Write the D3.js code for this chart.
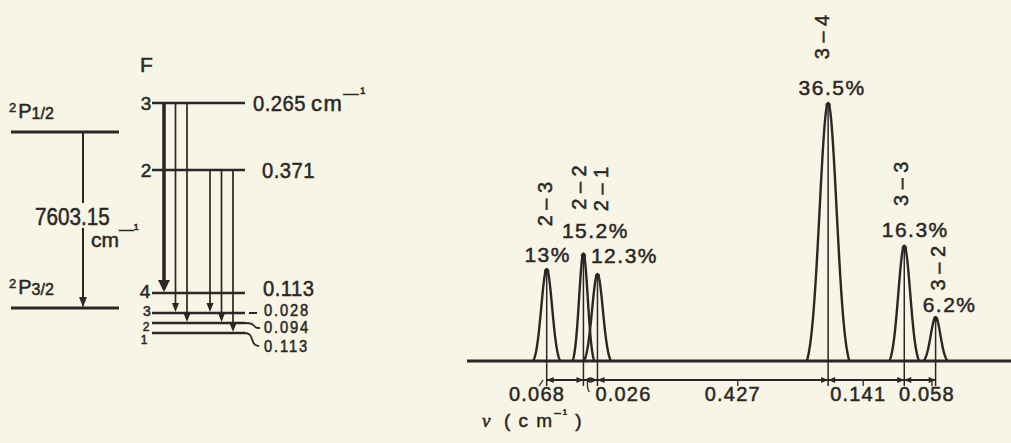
<!DOCTYPE html>
<html>
<head>
<meta charset="utf-8">
<script src="https://cdn.jsdelivr.net/npm/d3@7"></script>
<style>
  html, body { margin: 0; padding: 0; background: #f7f5e6; }
  svg { display: block; }
  text { font-family: "Liberation Sans", Arial, sans-serif; fill: #2b2724; stroke: #2b2724; stroke-width: 0.5px; }
</style>
</head>
<body>
<svg id="chart" width="1011" height="443"></svg>
<script>
// ---------- data ----------
// fine structure of the ground configuration
const fineTerms = ["1/2", "3/2"];
const fineSplitting = "7603.15";

// hyperfine levels (F) of each term and the numbers written beside them
const upperF = ["3", "2"];
const upperNotes = ["0.265", "0.371"];
const lowerF = ["4", "3", "2", "1"];
const lowerNotes = ["0.113", "0.028", "0.094", "0.113"];

// hyperfine components, in order of increasing wavenumber
const components = ["2-3", "2-2", "2-1", "3-4", "3-3", "3-2"];
const intensities = [13, 15.2, 12.3, 36.5, 16.3, 6.2];          // % of total
const spacings = [0.068, 0.026, 0.427, 0.141, 0.058];            // cm^-1 between neighbours
const linewidths = [0.010, 0.008, 0.010, 0.0157, 0.011, 0.009];  // gaussian sigma, cm^-1

// ---------- drawing ----------
const ink = "#2b2724";
const svg = d3.select("#chart");
const g = svg.append("g");

function arrowHead(sel, x, y, len, half) {
  sel.append("path")
    .attr("d", `M${x},${y} L${x - half},${y - len} L${x + half},${y - len} Z`)
    .attr("fill", ink);
}
// squeeze a text horizontally, like the narrow typeface of the print
function condense(sel, k) {
  sel.each(function () {
    const w = this.getComputedTextLength();
    d3.select(this).attr("textLength", w * k).attr("lengthAdjust", "spacingAndGlyphs");
  });
  return sel;
}
// "cm^-1" unit written after a number
function unit(x, y, size) {
  const t = g.append("text").attr("x", x).attr("y", y).attr("font-size", size);
  t.append("tspan").text("cm");
  t.append("tspan").attr("font-size", size * 0.7).attr("dy", -size * 0.6).text("\u2014\u00b9");
  return t;
}

// ===== left: fine-structure levels =====
const fineY = d3.scaleOrdinal().domain(fineTerms).range([132, 308]);
const fineX = d3.scaleLinear().domain([0, 1]).range([11, 119]);
const fsArrowX = 83;

g.selectAll("line.fine").data(fineTerms).join("line")
  .attr("x1", fineX(0)).attr("x2", fineX(1))
  .attr("y1", d => fineY(d)).attr("y2", d => fineY(d))
  .attr("stroke", ink).attr("stroke-width", 3);

const termLabel = g.selectAll("text.term").data(fineTerms).join("text")
  .attr("x", 9).attr("y", d => fineY(d) - 14);
termLabel.append("tspan").attr("font-size", 13).attr("dy", -6).text("2");
termLabel.append("tspan").attr("font-size", 20).attr("dy", 6).attr("dx", 2).text("P");
termLabel.append("tspan").attr("font-size", 16).attr("dy", 1).text(d => d);

// vertical transition arrow, broken around the splitting value
g.append("line").attr("x1", fsArrowX).attr("x2", fsArrowX)
  .attr("y1", fineY("1/2")).attr("y2", 203).attr("stroke", ink).attr("stroke-width", 2);
g.append("line").attr("x1", fsArrowX).attr("x2", fsArrowX)
  .attr("y1", 228).attr("y2", fineY("3/2") - 2).attr("stroke", ink).attr("stroke-width", 2);
arrowHead(g, fsArrowX, fineY("3/2") - 1, 10, 4);

condense(g.append("text").attr("x", 35).attr("y", 225).attr("font-size", 23)
  .text(fineSplitting), 0.9);
unit(91, 247, 21);

// ===== middle: hyperfine levels and allowed transitions =====
const levY = d3.scaleOrdinal()
  .domain(["u3", "u2", "l4", "l3", "l2", "l1"])
  .range([103, 170, 293, 313, 323, 333]);
const levX0 = 152, levX1 = 245;

g.append("text").attr("x", 140).attr("y", 72).attr("font-size", 21).text("F");

const levels = upperF.map((f, i) => ({ key: "u" + f, f, note: upperNotes[i], upper: true }))
  .concat(lowerF.map((f, i) => ({ key: "l" + f, f, note: lowerNotes[i], upper: false })));

g.selectAll("line.hf").data(levels).join("line")
  .attr("x1", levX0).attr("x2", levX1)
  .attr("y1", d => levY(d.key)).attr("y2", d => levY(d.key))
  .attr("stroke", ink).attr("stroke-width", 2.6);

const fSize = { u3: 19, u2: 19, l4: 19, l3: 14, l2: 12, l1: 12 };
const fX = { u3: 146, u2: 146, l4: 145, l3: 147, l2: 146, l1: 144 };
const fDy = { u3: 0, u2: 0, l4: -2, l3: -2, l2: 3.5, l1: 7 };
g.selectAll("text.flab").data(levels).join("text")
  .attr("x", d => fX[d.key])
  .attr("y", d => levY(d.key) + fDy[d.key])
  .attr("dy", "0.36em")
  .attr("text-anchor", "middle")
  .attr("font-size", d => fSize[d.key])
  .text(d => d.f);

// numbers to the right of the levels
const noteY = { u3: 103, u2: 170, l4: 288, l3: 310, l2: 327.5, l1: 346 };
const noteX = { u3: 253, u2: 262, l4: 263, l3: 264, l2: 264, l1: 264 };
const noteSize = { u3: 22, u2: 22, l4: 22, l3: 16, l2: 16, l1: 16 };
const notes = g.selectAll("text.note").data(levels).join("text")
  .attr("x", d => noteX[d.key]).attr("y", d => noteY[d.key])
  .attr("dy", "0.36em").attr("font-size", d => noteSize[d.key])
  .attr("letter-spacing", d => d.upper || d.f === "4" ? 0.5 : 2)
  .text(d => d.note);
condense(notes, 0.92);
unit(311, 111, 22).attr("letter-spacing", 1.5);

// short leaders joining the crowded lower levels to their numbers
const leader = d3.line().curve(d3.curveBasis);
g.append("path").attr("d", leader([[levX1 + 4, levY("l3")], [levX1 + 12, levY("l3")]]))
  .attr("stroke", ink).attr("stroke-width", 2).attr("fill", "none");
g.append("path").attr("d", leader([[levX1 - 2, levY("l2")], [levX1 + 8, levY("l2")], [levX1 + 10, levY("l2") + 5], [levX1 + 15, levY("l2") + 5]]))
  .attr("stroke", ink).attr("stroke-width", 1.8).attr("fill", "none");
g.append("path").attr("d", leader([[levX1 - 2, levY("l1")], [levX1 + 6, levY("l1")], [levX1 + 8, levY("l1") + 12], [levX1 + 14, levY("l1") + 13]]))
  .attr("stroke", ink).attr("stroke-width", 1.8).attr("fill", "none");

// transition arrows: from F'=3 then from F'=2
const arrowOrder = ["3-4", "3-3", "3-2", "", "2-3", "2-2", "2-1"];
const arrowX = d3.scalePoint().domain(arrowOrder).range([164, 233]);
const maxI = d3.max(intensities);
components.forEach((c, i) => {
  const [fu, fl] = c.split("-");
  const x = arrowX(c);
  const y1 = levY("u" + fu), y2 = levY("l" + fl);
  const strong = intensities[i] === maxI;
  g.append("line").attr("x1", x).attr("x2", x).attr("y1", y1).attr("y2", y2 - 4)
    .attr("stroke", ink).attr("stroke-width", strong ? 3.6 : 1.7);
  arrowHead(g, x, y2 - 1, strong ? 12 : 9, strong ? 6 : 3.5);
});

// ===== right: spectrum =====
const positions = [0].concat(Array.from(d3.cumsum(spacings)));
const xS = d3.scaleLinear().domain([0, 0.72]).range([546.7, 935.6]);
const yS = d3.scaleLinear().domain([0, 36.5]).range([361, 103]);
const baseY = yS(0);
const dimY = 380;

// baseline
g.append("line").attr("x1", 467).attr("x2", 1011).attr("y1", baseY).attr("y2", baseY)
  .attr("stroke", ink).attr("stroke-width", 3);

// line profiles
const U = 2.5, e0 = Math.exp(-U * U / 2);
const profile = d3.line().x(d => d[0]).y(d => d[1]);
const peaks = components.map((c, i) => ({
  name: c, pct: intensities[i], nu: positions[i], w: linewidths[i],
  x: xS(positions[i]), top: yS(intensities[i])
}));

peaks.forEach(p => {
  const pts = d3.range(-U, U + 1e-9, 0.05).map(u => {
    const f = (Math.exp(-u * u / 2) - e0) / (1 - e0);
    return [xS(p.nu + u * p.w), yS(p.pct * f)];
  });
  g.append("path").attr("d", profile(pts))
    .attr("fill", "none").attr("stroke", ink).attr("stroke-width", 2.4)
    .attr("stroke-linejoin", "round");
  g.append("circle").attr("cx", p.x).attr("cy", p.top + 2).attr("r", 2.6).attr("fill", ink);
  g.append("line").attr("x1", p.x).attr("x2", p.x).attr("y1", p.top).attr("y2", dimY + 6)
    .attr("stroke", ink).attr("stroke-width", 1.5);
});

// transition names (rotated) and intensities above each line
const rotNudge = [[-2, -65], [-5, -66], [3, -85], [-6, -66], [-3, -62], [2, -49]];
const pctNudge = [[1, -7], [12, -16], [27, -11], [4, -8], [11, -9], [14, -5]];

peaks.forEach((p, i) => {
  const [a, b] = p.name.split("-");
  g.append("text")
    .attr("transform", `translate(${p.x + rotNudge[i][0]},${p.top + rotNudge[i][1]}) rotate(-90)`)
    .attr("text-anchor", "middle").attr("dy", "0.36em")
    .attr("font-size", 20)
    .text(`${a} \u2013 ${b}`);
  g.append("text")
    .attr("x", p.x + pctNudge[i][0]).attr("y", p.top + pctNudge[i][1])
    .attr("text-anchor", "middle").attr("font-size", 21).attr("letter-spacing", 1.5)
    .text(`${p.pct}%`);
});

// dimension line with arrows between neighbouring components
g.append("line").attr("x1", peaks[0].x).attr("x2", peaks[peaks.length - 1].x)
  .attr("y1", dimY).attr("y2", dimY).attr("stroke", ink).attr("stroke-width", 2);

const spacingNudge = [-28, 33, 20, -8, 7];
spacings.forEach((s, i) => {
  const xa = peaks[i].x, xb = peaks[i + 1].x;
  const len = Math.min(7, (xb - xa) / 2);
  g.append("path").attr("d", `M${xa},${dimY} L${xa + len},${dimY - 3} L${xa + len},${dimY + 3} Z`).attr("fill", ink);
  g.append("path").attr("d", `M${xb},${dimY} L${xb - len},${dimY - 3} L${xb - len},${dimY + 3} Z`).attr("fill", ink);
  const lx = (xa + xb) / 2 + spacingNudge[i];
  if (i !== 1) {
    g.append("line").attr("x1", lx + (i === 0 ? 6 : 5)).attr("x2", lx + (i === 0 ? 2 : 5))
      .attr("y1", dimY).attr("y2", dimY + 6).attr("stroke", ink).attr("stroke-width", 1.3);
  } else {
    g.append("path").attr("d", leader([[xa + 4, dimY + 2], [xa + 4, dimY + 9], [xa + 6, dimY + 12]]))
      .attr("fill", "none").attr("stroke", ink).attr("stroke-width", 1.3);
  }
  g.append("text").attr("x", lx).attr("y", 401)
    .attr("text-anchor", "middle").attr("font-size", 20).attr("letter-spacing", 1.2)
    .text(s.toFixed(3));
});

// axis title
const axT = g.append("text").attr("x", 482).attr("y", 427).attr("font-size", 19).attr("letter-spacing", 1.5);
axT.append("tspan").attr("font-style", "italic").attr("font-family", "Liberation Serif, serif").text("\u03bd");
axT.append("tspan").attr("dx", 12).text("( c m");
axT.append("tspan").attr("font-size", 13).attr("dy", -9).text("\u2212\u00b9");
axT.append("tspan").attr("dy", 9).text(" )");
</script>
</body>
</html>
